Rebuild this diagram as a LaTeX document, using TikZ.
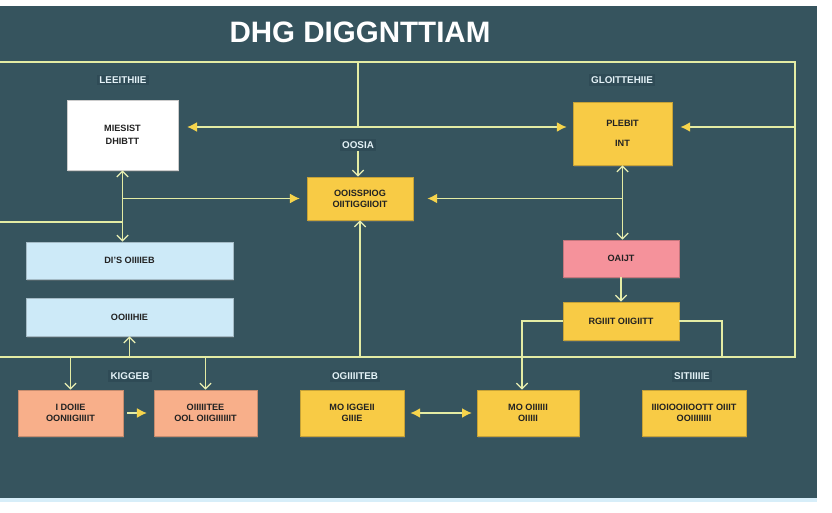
\documentclass[tikz,border=0pt]{standalone}
\usepackage{fontspec}
\setmainfont{Liberation Sans}
\usetikzlibrary{arrows.meta,shadows}

\definecolor{panel}{HTML}{36545E}
\definecolor{linecol}{HTML}{E4ECA4}
\definecolor{headcol}{HTML}{F6D44C}
\definecolor{barbcol}{HTML}{EAF0B4}
\definecolor{tagbg}{HTML}{2F4B56}
\definecolor{tagtext}{HTML}{E3F1F6}
\definecolor{boxtext}{HTML}{222222}
\definecolor{whitebox}{HTML}{FFFFFF}
\definecolor{yellowbox}{HTML}{F8CB45}
\definecolor{bluebox}{HTML}{CDEAF8}
\definecolor{pinkbox}{HTML}{F5929B}
\definecolor{salmonbox}{HTML}{F8AF8A}

\begin{document}
\begin{tikzpicture}[x=0.025cm,y=-0.025cm,
    link/.style={draw=linecol,line width=0.9pt},
    fhead/.style={-{Latex[length=7pt,width=7pt,color=headcol]}},
    fheads/.style={{Latex[length=7pt,width=7pt,color=headcol]}-{Latex[length=7pt,width=7pt,color=headcol]}},
    vhead/.style={-{Straight Barb[length=4pt,width=8pt,color=barbcol]}},
    vheads/.style={{Straight Barb[length=4pt,width=8pt,color=barbcol]}-{Straight Barb[length=4pt,width=8pt,color=barbcol]}},
    box/.style={rectangle,fill=#1,draw=#1!80!black,line width=0.5pt,
        drop shadow={shadow xshift=1pt,shadow yshift=-1.2pt,opacity=0.35},
        text=boxtext,align=center,inner sep=0pt,
        font=\fontsize{6.5}{8}\selectfont\bfseries},
    tag/.style={fill=tagbg,text=tagtext,inner sep=1.5pt,
        font=\fontsize{7}{8}\selectfont\bfseries},
    title/.style={text=white,font=\fontsize{21}{24}\selectfont\bfseries}]

    % page and panel
    \useasboundingbox (0,0) rectangle (832,512);
    \fill[white] (0,0) rectangle (832,512);
    \fill[panel] (0,6) rectangle (817,498);
    \fill[bluebox!80!white] (0,498) rectangle (817,502);

    % title
    \node[title] (ttl) at (360,32) {DHG DIGGNTTIAM};

    %%%%%%%%%%%%%%%%%%%%%%%%%%%%%%%%%%%%%%%%%%%%%%%%%%%%%%

    % upper boxes
    \node[tag] (lLeft) at (123,80) {LEEITHIIE};
    \node[box=whitebox,minimum width=2.775cm,minimum height=1.75cm] (mbox) at (122.5,135) {MIESIST\\[1pt] DHIBTT};

    \node[tag] (lRight) at (622,80) {GLOITTEHIIE};
    \node[box=yellowbox,minimum width=2.475cm,minimum height=1.575cm] (pbox) at (622.5,133.5) {PLEBIT\\[6pt] INT};

    \node[tag] (lMid) at (358,145) {OOSIA};
    \node[box=yellowbox,minimum width=2.65cm,minimum height=1.075cm] (cbox) at (360,198.5) {OOISSPIOG\\ OIITIGGIIOIT};

    %%%%%%%%%%%%%%%%%%%%%%%%%%%%%%%%%%%%%%%%%%%%%%%%%%%%%%

    % middle boxes
    \node[box=bluebox,minimum width=5.175cm,minimum height=0.925cm] (dbox) at (129.5,260.5) {DI'S OIIIIEB};
    \node[box=bluebox,minimum width=5.175cm,minimum height=0.95cm] (obox) at (129.5,317) {OOIIIHIE};

    \node[box=pinkbox,minimum width=2.9cm,minimum height=0.925cm] (qbox) at (621,258.5) {OAIJT};
    \node[box=yellowbox,minimum width=2.9cm,minimum height=0.95cm] (rbox) at (621,321) {RGIIIT OIIGIITT};

    %%%%%%%%%%%%%%%%%%%%%%%%%%%%%%%%%%%%%%%%%%%%%%%%%%%%%%

    % lower row
    \node[tag] (lLow) at (130,376) {KIGGEB};
    \node[tag] (lGr) at (355,376) {OGIIIITEB};
    \node[tag] (lSt) at (692,376) {SITIIIIIE};

    \node[box=salmonbox,minimum width=2.625cm,minimum height=1.15cm] (b1) at (70.5,413) {I DOIIE\\ OONIIGIIIIT};
    \node[box=salmonbox,minimum width=2.575cm,minimum height=1.15cm] (b2) at (205.5,413) {OIIIIITEE\\ OOL OIIGIIIIIIT};
    \node[box=yellowbox,minimum width=2.6cm,minimum height=1.15cm] (b3) at (352,413) {MO IGGEII\\ GIIIE};
    \node[box=yellowbox,minimum width=2.55cm,minimum height=1.15cm] (b4) at (528,413) {MO OIIIIII\\ OIIIII};
    \node[box=yellowbox,minimum width=2.6cm,minimum height=1.15cm] (b5) at (694,413) {IIIOIOOIIOOTT OIIIT\\ OOIIIIIIII};

    %%%%%%%%%%%%%%%%%%%%%%%%%%%%%%%%%%%%%%%%%%%%%%%%%%%%%%

    % frame
    \coordinate (fTL) at (0,62);
    \coordinate (fTR) at (795,62);
    \coordinate (fBR) at (795,357);
    \coordinate (fBL) at (0,357);
    \draw[link] (fTL) -- (fTR) -- (fBR) -- (fBL);

    % top crossing
    \coordinate (jTop) at (358,127);
    \draw[link] (jTop |- fTL) -- (jTop);
    \draw[link,fheads,shorten <=0.22cm,shorten >=0.15cm] (mbox.east |- jTop) -- (pbox.west |- jTop);
    \draw[link,fhead,shorten >=0.2cm] (fTR |- jTop) -- (pbox.east |- jTop);

    % into the centre box
    \draw[link,vhead] (lMid.south) -- (lMid.south |- cbox.north);
    \draw[link,vheads] (mbox.south) -- (mbox.south |- dbox.north);
    \draw[link,fhead,shorten >=0.17cm] (mbox.south |- cbox.west) -- (cbox.west);
    \coordinate (jLeft) at (123,222);
    \draw[link] (jLeft -| fTL) -- (jLeft);

    \draw[link,vheads] (pbox.south) -- (pbox.south |- qbox.north);
    \draw[link,fhead,shorten >=0.35cm] (pbox.south |- cbox.east) -- (cbox.east);
    \draw[link,vhead] (cbox.south |- fBL) -- (cbox.south);

    % from the frame
    \draw[link,vhead] (obox.south |- fBL) -- (obox.south);
    \draw[link,vhead] (b1.north |- fBL) -- (b1.north);
    \draw[link,vhead] (b2.north |- fBL) -- (b2.north);

    % right column
    \draw[link,vhead] (qbox) -- (rbox);
    \coordinate (jDown) at (522,357);
    \draw[link,vhead] (rbox.west) -| (jDown) -- (jDown |- b4.north);
    \coordinate (jRight) at (722,357);
    \draw[link] (rbox.east) -| (jRight);

    % lower row links
    \draw[link,fhead,shorten <=0.1cm,shorten >=0.17cm] (b1) -- (b2);
    \draw[link,fheads,shorten <=0.15cm,shorten >=0.12cm] (b3) -- (b4);

\end{tikzpicture}
\end{document}
